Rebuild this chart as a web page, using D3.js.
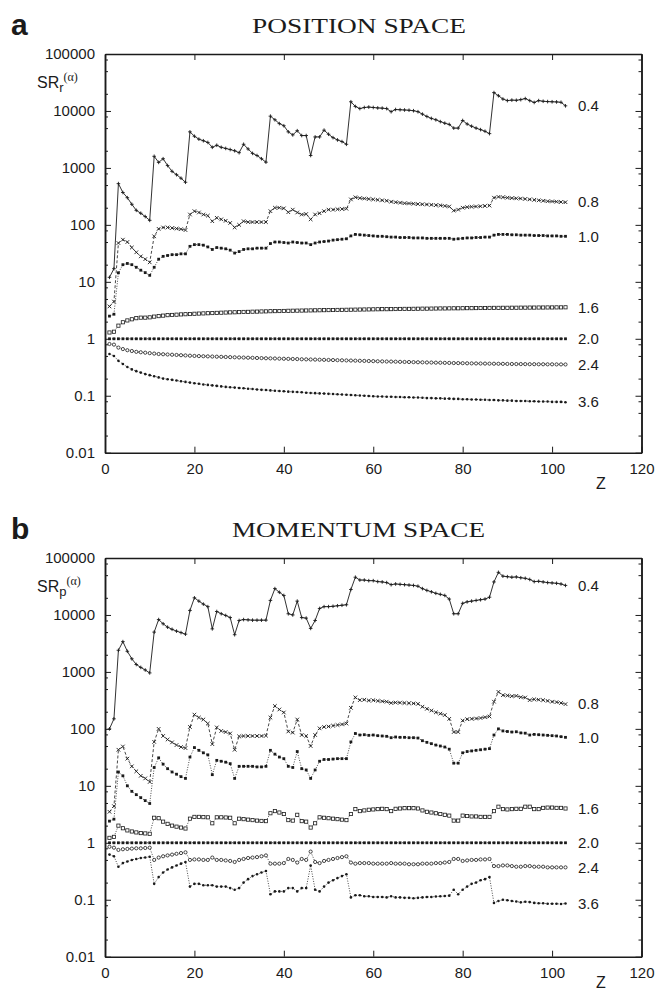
<!DOCTYPE html>
<html>
<head>
<meta charset="utf-8">
<script src="https://cdn.jsdelivr.net/npm/d3@7"></script>
<style>
  body { margin: 0; background: #fff; }
  svg { display: block; }
</style>
</head>
<body>
<svg id="chart" width="659" height="990"></svg>
<script>
// atomic number Z = 1..103
const zValues = d3.range(1, 104);
const xTicks = [0, 20, 40, 60, 80, 100, 120];
const yTicks = [0.01, 0.1, 1, 10, 100, 1000, 10000, 100000];
const minorSteps = [2, 5, 8];
const alphaLabels = ["0.4", "0.8", "1.0", "1.6", "2.0", "2.4", "3.6"];

// ---- position space ----
const posA04 = [
  12, 17, 530, 370, 300, 230, 180, 160, 140, 120,
  1600, 1250, 1450, 1100, 870, 760, 660, 560, 4300, 3600,
  3200, 3000, 2800, 2300, 2500, 2300, 2200, 2100, 2000, 1850,
  2600, 2150, 1800, 1650, 1450, 1260, 8100, 7000, 6000, 5500,
  4300, 3800, 4500, 3700, 3700, 1650, 3500, 3500, 4600, 3900,
  3400, 3100, 2900, 2600, 14500, 12000, 11000, 11500, 11700, 11500,
  11300, 11200, 11000, 9700, 10600, 10500, 10400, 10300, 10100, 9700,
  8800, 8000, 7400, 7000, 6500, 6100, 5800, 5000, 5000, 6800,
  5900, 5400, 5000, 4700, 4400, 4000, 21000, 18500, 16200, 15200,
  15500, 15400, 15800, 16500, 15200, 14100, 15200, 14800, 14600, 14500,
  14400, 14200, 12300
];
const posA08 = [
  3.7, 4.5, 48, 55, 50, 40, 33, 28, 25, 22,
  63, 85, 90, 90, 88, 86, 84, 81, 152, 174,
  165, 152, 145, 116, 133, 125, 118, 108, 90, 100,
  116, 112, 112, 112, 112, 112, 174, 200, 200, 195,
  167, 185, 165, 152, 155, 125, 152, 160, 174, 185,
  185, 188, 190, 192, 280, 305, 295, 290, 285, 280,
  275, 270, 265, 255, 250, 245, 240, 238, 235, 232,
  230, 228, 225, 222, 220, 215, 210, 178, 185, 200,
  205, 208, 210, 212, 215, 218, 300, 310, 305, 300,
  295, 292, 290, 285, 280, 275, 270, 265, 260, 258,
  255, 252, 250
];
const posA10 = [
  2.5, 2.7, 14.4, 20, 21, 20, 18, 16, 14.5, 13,
  18, 25, 28, 29, 30, 30, 31, 31, 42, 45,
  45, 44, 41, 37, 40, 39, 38, 36, 32, 34,
  37, 38, 38, 39, 39, 39, 47, 50, 50, 49,
  48, 50, 49, 48, 48, 45, 48, 50, 51, 52,
  54, 55, 56, 57, 64, 68, 67, 66, 65, 64,
  63, 63, 62, 61, 61, 60, 60, 60, 59, 59,
  59, 58, 58, 58, 58, 58, 58, 56, 57, 58,
  59, 59, 60, 60, 61, 61, 66, 68, 68, 68,
  67, 67, 66, 66, 66, 65, 65, 65, 64, 64,
  64, 63, 63
];
const posA16 = [
  1.29, 1.33, 1.7, 1.95, 2.1, 2.2, 2.3, 2.35, 2.35, 2.38,
  2.45, 2.5, 2.55, 2.6, 2.62, 2.65, 2.68, 2.7, 2.72, 2.75,
  2.77, 2.79, 2.81, 2.83, 2.85, 2.87, 2.89, 2.91, 2.92, 2.94,
  2.96, 2.97, 2.99, 3.0, 3.02, 3.03, 3.05, 3.06, 3.07, 3.08,
  3.1, 3.11, 3.12, 3.13, 3.14, 3.15, 3.16, 3.17, 3.18, 3.19,
  3.2, 3.21, 3.22, 3.23, 3.24, 3.25, 3.26, 3.27, 3.28, 3.29,
  3.3, 3.31, 3.31, 3.32, 3.33, 3.34, 3.35, 3.35, 3.36, 3.37,
  3.38, 3.38, 3.39, 3.4, 3.41, 3.41, 3.42, 3.43, 3.43, 3.44,
  3.45, 3.45, 3.46, 3.47, 3.47, 3.48, 3.49, 3.49, 3.5, 3.5,
  3.51, 3.51, 3.52, 3.52, 3.53, 3.53, 3.54, 3.54, 3.55, 3.55,
  3.56, 3.56, 3.57
];
const posA20 = [
  1, 1, 1, 1, 1, 1, 1, 1, 1, 1,
  1, 1, 1, 1, 1, 1, 1, 1, 1, 1,
  1, 1, 1, 1, 1, 1, 1, 1, 1, 1,
  1, 1, 1, 1, 1, 1, 1, 1, 1, 1,
  1, 1, 1, 1, 1, 1, 1, 1, 1, 1,
  1, 1, 1, 1, 1, 1, 1, 1, 1, 1,
  1, 1, 1, 1, 1, 1, 1, 1, 1, 1,
  1, 1, 1, 1, 1, 1, 1, 1, 1, 1,
  1, 1, 1, 1, 1, 1, 1, 1, 1, 1,
  1, 1, 1, 1, 1, 1, 1, 1, 1, 1,
  1, 1, 1
];
const posA24 = [
  0.81, 0.79, 0.7, 0.66, 0.63, 0.61, 0.59, 0.58, 0.57, 0.56,
  0.55, 0.54, 0.535, 0.53, 0.525, 0.52, 0.515, 0.51, 0.505, 0.5,
  0.497, 0.494, 0.491, 0.488, 0.485, 0.482, 0.479, 0.476, 0.473, 0.47,
  0.468, 0.465, 0.463, 0.46, 0.458, 0.455, 0.453, 0.451, 0.448, 0.446,
  0.444, 0.442, 0.44, 0.437, 0.435, 0.433, 0.431, 0.429, 0.427, 0.425,
  0.423, 0.421, 0.419, 0.417, 0.415, 0.413, 0.411, 0.409, 0.407, 0.405,
  0.403, 0.401, 0.399, 0.398, 0.396, 0.394, 0.392, 0.391, 0.389, 0.387,
  0.386, 0.384, 0.383, 0.381, 0.38, 0.378, 0.377, 0.375, 0.374, 0.373,
  0.371, 0.37, 0.369, 0.368, 0.367, 0.366, 0.365, 0.364, 0.363, 0.362,
  0.361, 0.36, 0.36, 0.359, 0.358, 0.358, 0.357, 0.357, 0.356, 0.356,
  0.355, 0.355, 0.354
];
const posA36 = [
  0.54, 0.5, 0.41, 0.36, 0.32, 0.29, 0.27, 0.255, 0.24, 0.23,
  0.22, 0.21, 0.2, 0.195, 0.19, 0.185, 0.18, 0.175, 0.17, 0.166,
  0.162, 0.158, 0.155, 0.152, 0.149, 0.146, 0.143, 0.141, 0.139, 0.137,
  0.135, 0.133, 0.131, 0.129, 0.127, 0.126, 0.124, 0.122, 0.121, 0.12,
  0.118, 0.117, 0.116, 0.115, 0.113, 0.112, 0.111, 0.11, 0.109, 0.108,
  0.107, 0.106, 0.105, 0.104, 0.103, 0.102, 0.101, 0.1, 0.099, 0.098,
  0.097, 0.097, 0.096, 0.096, 0.095, 0.095, 0.094, 0.094, 0.093, 0.093,
  0.092, 0.091, 0.091, 0.09, 0.09, 0.089, 0.089, 0.088, 0.088, 0.087,
  0.087, 0.086, 0.086, 0.085, 0.085, 0.084, 0.084, 0.083, 0.083, 0.082,
  0.082, 0.081, 0.081, 0.081, 0.08, 0.08, 0.079, 0.079, 0.079, 0.078,
  0.078, 0.078, 0.077
];

// ---- momentum space ----
const momA04 = [
  100, 150, 2400, 3400, 2300, 1700, 1350, 1200, 1080, 960,
  5000, 8300, 7000, 6100, 5600, 5200, 4900, 4600, 12000, 20000,
  17500, 15500, 14000, 5700, 11500, 10500, 9800, 9000, 4500, 8000,
  8300, 8200, 8100, 8100, 8100, 8100, 18000, 29000, 25000, 22000,
  10500, 10000, 17500, 9000, 8800, 5800, 8000, 13000, 14000, 14000,
  14200, 14500, 14800, 15100, 28000, 46000, 41000, 41000, 40000, 40000,
  38500, 38000, 37000, 34000, 35000, 34500, 34000, 33500, 33000, 32000,
  29000, 27000, 25500, 24000, 23000, 22000, 19000, 10500, 10500, 16000,
  17000, 17500, 18000, 18500, 19000, 20500, 38000, 56000, 48000, 47000,
  46000, 46500, 45000, 44000, 42000, 38500, 39000, 38000, 37000, 36500,
  36000, 35000, 33000
];
const momA08 = [
  3.5, 4.4, 43, 49, 30, 22, 18, 15, 13.5, 11.7,
  59, 100, 75, 65, 58, 52, 48, 46, 108, 178,
  158, 146, 124, 54, 106, 92, 88, 83, 43, 74,
  75, 75, 75, 75, 75, 76, 158, 252, 219, 194,
  90, 86, 146, 78, 75, 50, 78, 102, 108, 110,
  114, 117, 120, 124, 234, 357, 320, 325, 315, 318,
  310, 305, 300, 285, 290, 288, 285, 282, 280, 275,
  245, 225, 210, 195, 185, 175, 150, 88, 88, 140,
  148, 150, 152, 155, 160, 165, 300, 446, 390, 385,
  375, 380, 360, 355, 320, 330, 325, 320, 310, 300,
  295, 285, 272
];
const momA10 = [
  2.4, 2.6, 17.5, 15, 10, 8, 7, 6.2, 5.5, 4.9,
  21, 31, 24, 20, 17.5, 16, 14.5, 13.5, 32, 47,
  42, 38, 35, 15.7, 28, 27, 26, 24.5, 13.5, 22,
  22, 22, 22, 21.5, 21.5, 22, 42, 36, 32, 30,
  22, 21, 40, 20, 19, 13.5, 19, 27, 29, 29,
  29.5, 30, 30, 30, 59, 83, 78, 79, 77, 78,
  76, 75, 74, 70, 72, 71, 71, 70, 70, 69,
  62, 58, 55, 52, 50, 48, 44, 25, 25, 38,
  40, 41, 42, 43, 44, 45, 78, 100, 92, 90,
  88, 89, 85, 84, 78, 80, 79, 78, 77, 76,
  75, 73, 71
];
const momA16 = [
  1.22, 1.27, 2.0, 1.8, 1.65, 1.58, 1.52, 1.48, 1.46, 1.44,
  2.75, 2.7, 2.35, 2.15, 2.0, 1.92, 1.85, 1.78, 2.65, 2.85,
  2.85, 2.82, 2.8, 2.2, 2.8, 2.8, 2.78, 2.75, 2.2, 2.65,
  2.6, 2.55, 2.5, 2.45, 2.42, 2.4, 3.3, 3.6, 3.4, 3.2,
  2.5, 2.45, 3.1, 2.4, 2.35, 1.85, 2.2, 2.8, 2.75, 2.7,
  2.65, 2.6, 2.55, 2.5, 3.2, 3.9, 3.6, 3.7, 3.8, 3.85,
  3.9, 3.95, 3.9, 3.6, 3.95, 4.0, 4.05, 4.05, 4.05, 4.0,
  3.7, 3.5, 3.4, 3.3, 3.2, 3.1, 3.0, 2.45, 2.45, 3.0,
  2.95, 2.9, 2.9, 2.85, 2.85, 2.85, 3.6, 4.3, 3.9, 3.85,
  3.9, 3.95, 3.95, 4.3, 4.3, 3.9, 3.9, 4.1, 4.15, 4.15,
  4.1, 4.1, 4.0
];
const momA20 = [
  1, 1, 1, 1, 1, 1, 1, 1, 1, 1,
  1, 1, 1, 1, 1, 1, 1, 1, 1, 1,
  1, 1, 1, 1, 1, 1, 1, 1, 1, 1,
  1, 1, 1, 1, 1, 1, 1, 1, 1, 1,
  1, 1, 1, 1, 1, 1, 1, 1, 1, 1,
  1, 1, 1, 1, 1, 1, 1, 1, 1, 1,
  1, 1, 1, 1, 1, 1, 1, 1, 1, 1,
  1, 1, 1, 1, 1, 1, 1, 1, 1, 1,
  1, 1, 1, 1, 1, 1, 1, 1, 1, 1,
  1, 1, 1, 1, 1, 1, 1, 1, 1, 1,
  1, 1, 1
];
const momA24 = [
  0.85, 0.82, 0.75, 0.77, 0.78, 0.79, 0.8, 0.8, 0.81, 0.82,
  0.5, 0.55, 0.58, 0.6, 0.62, 0.64, 0.66, 0.68, 0.5, 0.51,
  0.51, 0.5, 0.5, 0.55, 0.5, 0.5, 0.49, 0.48, 0.46, 0.5,
  0.52, 0.54, 0.55, 0.56, 0.58, 0.6, 0.43, 0.43, 0.43, 0.44,
  0.52, 0.5, 0.45, 0.52, 0.5, 0.7, 0.46, 0.44, 0.48, 0.5,
  0.52, 0.54, 0.56, 0.58, 0.45, 0.43, 0.44, 0.44, 0.44, 0.43,
  0.43, 0.43, 0.43, 0.44, 0.43, 0.43, 0.43, 0.42, 0.42, 0.42,
  0.43, 0.43, 0.43, 0.44, 0.44, 0.45, 0.46, 0.52, 0.52, 0.48,
  0.49, 0.5, 0.5, 0.51, 0.51, 0.52, 0.39, 0.39, 0.4, 0.4,
  0.39, 0.38, 0.38, 0.39, 0.39, 0.38, 0.38, 0.38, 0.37, 0.37,
  0.37, 0.37, 0.37
];
const momA36 = [
  0.62, 0.58, 0.38, 0.44, 0.47, 0.5, 0.52, 0.54, 0.55, 0.57,
  0.19, 0.25, 0.3, 0.34, 0.37, 0.4, 0.43, 0.46, 0.17, 0.19,
  0.19, 0.18, 0.18, 0.18, 0.17, 0.17, 0.17, 0.16, 0.15, 0.16,
  0.2, 0.23, 0.26, 0.28, 0.3, 0.32, 0.125, 0.14, 0.14, 0.14,
  0.16, 0.16, 0.14, 0.16, 0.16, 0.4, 0.15, 0.14, 0.17, 0.2,
  0.22, 0.24, 0.26, 0.28, 0.11, 0.12, 0.12, 0.115, 0.115, 0.112,
  0.112, 0.112, 0.11, 0.115, 0.11, 0.11, 0.108, 0.108, 0.106, 0.108,
  0.11, 0.112, 0.112, 0.114, 0.115, 0.116, 0.118, 0.15, 0.125, 0.15,
  0.17, 0.19, 0.2, 0.22, 0.23, 0.25, 0.088, 0.095, 0.1, 0.098,
  0.095, 0.093, 0.09, 0.092, 0.091, 0.088, 0.087, 0.087, 0.085, 0.085,
  0.085, 0.084, 0.086
];

const ink = "#1b1b1b";
const sansFont = "'Liberation Sans', Arial, sans-serif";
const serifFont = "'Liberation Serif', 'Times New Roman', serif";

// marker + line style per alpha (same order as alphaLabels)
const styles = [
  { marker: "plus",   dash: null },
  { marker: "cross",  dash: "3,2" },
  { marker: "square", dash: "1,1.5" },
  { marker: "box",    dash: "1,1.5" },
  { marker: "square", dash: "1,1.5" },
  { marker: "ring",   dash: "1,1.5" },
  { marker: "dot",    dash: "1,1.5" }
];

const svg = d3.select("#chart");

function drawMarkers(g, pts, kind) {
  if (kind === "plus") {
    g.selectAll("path").data(pts).join("path")
      .attr("d", d => `M${d[0] - 1.8},${d[1]}h3.6M${d[0]},${d[1] - 1.8}v3.6`)
      .attr("stroke", ink).attr("stroke-width", 0.9);
  } else if (kind === "cross") {
    g.selectAll("path").data(pts).join("path")
      .attr("d", d => `M${d[0] - 1.8},${d[1] - 1.8}l3.6,3.6M${d[0] - 1.8},${d[1] + 1.8}l3.6,-3.6`)
      .attr("stroke", ink).attr("stroke-width", 0.9);
  } else if (kind === "square") {
    g.selectAll("rect").data(pts).join("rect")
      .attr("x", d => d[0] - 1.4).attr("y", d => d[1] - 1.4)
      .attr("width", 2.8).attr("height", 2.8).attr("fill", ink);
  } else if (kind === "box") {
    g.selectAll("rect").data(pts).join("rect")
      .attr("x", d => d[0] - 1.6).attr("y", d => d[1] - 1.6)
      .attr("width", 3.2).attr("height", 3.2)
      .attr("fill", "#fff").attr("stroke", ink).attr("stroke-width", 0.8);
  } else if (kind === "ring") {
    g.selectAll("circle").data(pts).join("circle")
      .attr("cx", d => d[0]).attr("cy", d => d[1]).attr("r", 1.6)
      .attr("fill", "#fff").attr("stroke", ink).attr("stroke-width", 0.8);
  } else {
    g.selectAll("circle").data(pts).join("circle")
      .attr("cx", d => d[0]).attr("cy", d => d[1]).attr("r", 1.3)
      .attr("fill", ink);
  }
}

function drawPanel(cfg) {
  const x = d3.scaleLinear().domain([0, 120]).range([105, 641.5]);
  const y = d3.scaleLog().domain([0.01, 100000]).range([cfg.bottom, cfg.top]);
  const g = svg.append("g");

  const minorTicks = [];
  yTicks.slice(0, -1).forEach(t => minorSteps.forEach(m => minorTicks.push(t * m)));

  // minor ticks (inside)
  g.append("g").attr("transform", "translate(105,0)")
    .call(d3.axisLeft(y).tickValues(minorTicks).tickSize(-3).tickSizeOuter(0).tickFormat(""));
  g.append("g").attr("transform", "translate(641.5,0)")
    .call(d3.axisRight(y).tickValues(minorTicks).tickSize(-3).tickSizeOuter(0).tickFormat(""));

  // major ticks
  const left = g.append("g").attr("transform", "translate(105,0)")
    .call(d3.axisLeft(y).tickValues(yTicks).tickSize(-6).tickSizeOuter(0)
      .tickPadding(10).tickFormat(d => String(d)));
  g.append("g").attr("transform", "translate(641.5,0)")
    .call(d3.axisRight(y).tickValues(yTicks).tickSize(-6).tickSizeOuter(0).tickFormat(""));
  const bottom = g.append("g").attr("transform", `translate(0,${cfg.bottom})`)
    .call(d3.axisBottom(x).tickValues(xTicks).tickSize(-6).tickSizeOuter(0).tickPadding(11));
  g.append("g").attr("transform", `translate(0,${cfg.top})`)
    .call(d3.axisTop(x).tickValues(xTicks).tickSize(-6).tickSizeOuter(0).tickFormat(""));

  g.selectAll(".domain").attr("stroke", ink).attr("stroke-width", 1.5);
  g.selectAll(".tick line").attr("stroke", ink).attr("stroke-width", 1);
  [left, bottom].forEach(a => a.selectAll("text")
    .attr("fill", ink).attr("font-family", sansFont).attr("font-size", 15));

  // series
  const line = d3.line().x(d => d[0]).y(d => d[1]);
  cfg.series.forEach((vals, i) => {
    const pts = vals.map((v, k) => [x(zValues[k]), y(v)]);
    const st = styles[i];
    g.append("path").attr("d", line(pts))
      .attr("fill", "none").attr("stroke", ink)
      .attr("stroke-width", st.dash ? 0.8 : 0.9)
      .attr("stroke-dasharray", st.dash);
    drawMarkers(g.append("g"), pts, st.marker);
    g.append("text")
      .attr("x", 578).attr("y", y(vals[vals.length - 1]))
      .attr("dy", "0.35em")
      .attr("font-family", sansFont).attr("font-size", 15).attr("fill", ink)
      .text(alphaLabels[i]);
  });

  // panel letter and title
  g.append("text").attr("x", 11).attr("y", cfg.top - 19)
    .attr("font-family", sansFont).attr("font-weight", "bold").attr("font-size", 30)
    .attr("fill", ink).text(cfg.letter);
  g.append("text").attr("x", cfg.titleX).attr("y", cfg.top - 21)
    .attr("font-family", serifFont).attr("font-size", 20).attr("fill", ink)
    .attr("textLength", cfg.titleWidth).attr("lengthAdjust", "spacingAndGlyphs")
    .text(cfg.title);

  // y label SR_x^(alpha)
  const yl = g.append("text").attr("x", 37).attr("y", cfg.top + 34)
    .attr("font-family", sansFont).attr("font-size", 16).attr("fill", ink);
  yl.append("tspan").text("SR");
  yl.append("tspan").attr("font-size", 13).attr("dy", 4).text(cfg.sub);
  yl.append("tspan").attr("font-size", 12).attr("font-family", serifFont)
    .attr("dy", -11).text("(α)");

  // x label (kept inside the page for the lower panel)
  g.append("text").attr("x", 601).attr("y", Math.min(cfg.bottom + 36, 988))
    .attr("text-anchor", "middle")
    .attr("font-family", sansFont).attr("font-size", 16).attr("fill", ink)
    .text("Z");
}

drawPanel({
  top: 54, bottom: 452.7, letter: "a", title: "POSITION SPACE",
  titleX: 252, titleWidth: 214, sub: "r",
  series: [posA04, posA08, posA10, posA16, posA20, posA24, posA36]
});
drawPanel({
  top: 558, bottom: 956.7, letter: "b", title: "MOMENTUM SPACE",
  titleX: 232, titleWidth: 253, sub: "p",
  series: [momA04, momA08, momA10, momA16, momA20, momA24, momA36]
});
</script>
</body>
</html>
